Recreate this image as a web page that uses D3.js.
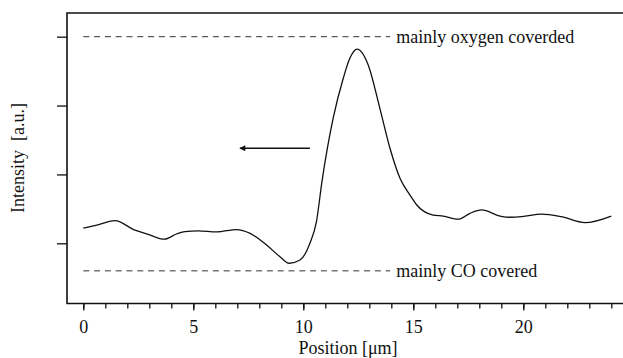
<!DOCTYPE html>
<html>
<head>
<meta charset="utf-8">
<script src="https://cdn.jsdelivr.net/npm/d3@7"></script>
<style>
  body { margin: 0; background: #fff; }
  svg text { font-family: "Liberation Serif", "Times New Roman", "DejaVu Serif", serif !important; fill: #111; }
</style>
</head>
<body>
<svg id="chart" width="623" height="358"></svg>
<script>
// intensity profile
const positions = [0, 0.7, 1.44, 2.35, 2.95, 3.68, 4.24, 4.62, 5.23, 6.06, 6.97, 7.58, 8.33, 8.94, 9.36, 9.85,
  10.3, 10.6, 10.85, 11.36, 11.82, 12.12, 12.45, 12.95, 13.48, 13.94, 14.4, 14.85, 15.15, 15.9, 16.36,
  17.05, 17.58, 18.11, 18.94, 19.39, 19.93, 20.83, 21.74, 22.8, 24.0]
const intensity = [1.22, 1.27, 1.33, 1.19, 1.13, 1.06, 1.135, 1.17, 1.18, 1.165, 1.2, 1.145, 0.975, 0.805, 0.71, 0.757,
  1.0, 1.32, 1.9, 2.82, 3.4, 3.69, 3.82, 3.59, 2.96, 2.38, 1.94, 1.7, 1.56, 1.41, 1.395,
  1.35, 1.436, 1.484, 1.396, 1.378, 1.386, 1.425, 1.386, 1.3, 1.396]

const xMajor = [0, 5, 10, 15, 20]
const xMinor = d3.range(0, 25)
const yTicks = [1, 2, 3, 4]

const refLines = [
  { value: 4, label: 'mainly oxygen coverded' },
  { value: 0.6, label: 'mainly CO covered' }
]
const refLineEnd = 13.95
const arrowFrom = [10.3, 2.38]
const arrowTo = [7.12, 2.38]

const frame = { left: 67, top: 13, right: 623, bottom: 303.5 }
const serif = '"Liberation Serif", "Times New Roman", "DejaVu Serif", serif'

const x = d3.scaleLinear().domain([0, 24]).range([83.3, 611.3])
const y = d3.scaleLinear().domain([1, 4]).range([243.3, 36.7])

const svg = d3.select('#chart')

svg.append('defs').append('marker')
  .attr('id', 'head')
  .attr('viewBox', '0 0 10 10')
  .attr('refX', 9).attr('refY', 5)
  .attr('markerWidth', 9).attr('markerHeight', 6)
  .attr('markerUnits', 'userSpaceOnUse')
  .attr('orient', 'auto')
  .append('path').attr('d', 'M0,0L10,5L0,10Z').attr('fill', '#111')

// x ticks (minor then major)
svg.append('g')
  .attr('transform', `translate(0,${frame.bottom})`)
  .call(d3.axisBottom(x).tickValues(xMinor).tickSize(5).tickFormat(''))
  .call(g => g.select('.domain').remove())
  .call(g => g.selectAll('line').attr('stroke', '#111').attr('stroke-width', 1.3))

svg.append('g')
  .attr('transform', `translate(0,${frame.bottom})`)
  .attr('font-family', serif)
  .call(d3.axisBottom(x).tickValues(xMajor).tickSize(7).tickPadding(10).tickFormat(d3.format('d')))
  .attr('font-family', serif)
  .attr('font-size', 18)
  .call(g => g.select('.domain').remove())
  .call(g => g.selectAll('line').attr('stroke', '#111').attr('stroke-width', 1.3))
  .call(g => g.selectAll('text').style('font-family', serif).attr('fill', '#111'))

// y ticks, no labels
svg.append('g')
  .attr('transform', `translate(${frame.left},0)`)
  .call(d3.axisLeft(y).tickValues(yTicks).tickSize(10).tickFormat(''))
  .call(g => g.select('.domain').remove())
  .call(g => g.selectAll('line').attr('stroke', '#111').attr('stroke-width', 1.3))

// frame: top, left, bottom (no right side)
svg.append('path')
  .attr('d', `M${frame.right},${frame.top}H${frame.left}V${frame.bottom}H${frame.right}`)
  .attr('fill', 'none')
  .attr('stroke', '#111')
  .attr('stroke-width', 1.6)

// dashed reference lines
svg.selectAll('.ref')
  .data(refLines)
  .enter()
  .append('line')
  .attr('class', 'ref')
  .attr('x1', x(0)).attr('x2', x(refLineEnd))
  .attr('y1', d => y(d.value)).attr('y2', d => y(d.value))
  .attr('stroke', '#333')
  .attr('stroke-width', 1)
  .attr('stroke-dasharray', '6,4.8')

svg.selectAll('.ref-label')
  .data(refLines)
  .enter()
  .append('text')
  .attr('class', 'ref-label')
  .attr('x', x(refLineEnd) + 6)
  .attr('y', d => y(d.value) + 6)
  .attr('font-size', 18)
  .style('font-family', serif)
  .text(d => d.label)

// profile
svg.append('path')
  .datum(positions.map((p, i) => [p, intensity[i]]))
  .attr('fill', 'none')
  .attr('stroke', '#111')
  .attr('stroke-width', 1.3)
  .attr('d', d3.line().x(d => x(d[0])).y(d => y(d[1])).curve(d3.curveMonotoneX))

// arrow
svg.append('line')
  .attr('x1', x(arrowFrom[0])).attr('y1', y(arrowFrom[1]))
  .attr('x2', x(arrowTo[0])).attr('y2', y(arrowTo[1]))
  .attr('stroke', '#111')
  .attr('stroke-width', 1.3)
  .attr('marker-end', 'url(#head)')

// axis titles
svg.append('text')
  .attr('x', (frame.left + frame.right) / 2 + 3)
  .attr('y', 354)
  .attr('text-anchor', 'middle')
  .attr('font-size', 18)
  .style('font-family', serif)
  .text('Position [\u03bcm]')

svg.append('text')
  .attr('transform', 'translate(24,158) rotate(-90)')
  .attr('text-anchor', 'middle')
  .attr('font-size', 18)
  .style('font-family', serif)
  .style('white-space', 'pre')
  .text('Intensity  [a.u.]')
</script>
</body>
</html>
